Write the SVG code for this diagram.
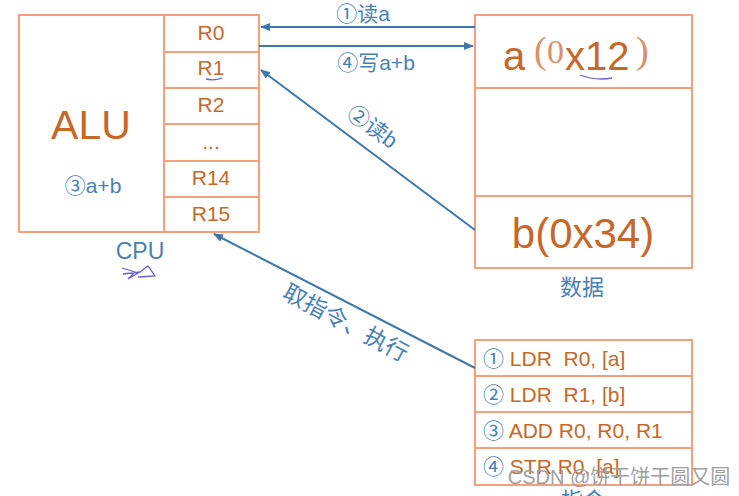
<svg xmlns="http://www.w3.org/2000/svg" width="739" height="496" viewBox="0 0 739 496">
<style>
.box{fill:none;stroke:#f4a07a;stroke-width:2}
.ot{font-family:"Liberation Sans","Noto Sans CJK SC",sans-serif;fill:#c5682a}
.bt{font-family:"Liberation Sans","Noto Sans CJK SC",sans-serif;fill:#4a7fb3}
.reg{font-size:21px;text-anchor:middle}
.ins{font-size:21px}
.conn{stroke:#3f77aa;stroke-width:2;fill:none}
.anno{stroke:#6a5ee0;stroke-width:1.3;fill:none}
.par{font-family:"Liberation Serif",serif;fill:#d9906a}
.wm{font-family:"Liberation Sans","Noto Sans CJK SC",sans-serif;fill:#a0a0a0}
</style>
<defs>
<marker id="ah" markerWidth="10" markerHeight="8" refX="9" refY="4" orient="auto" markerUnits="userSpaceOnUse">
<path d="M0,0 L10,4 L0,8 Z" fill="#3f77aa"/>
</marker>
</defs>
<rect width="739" height="496" fill="#ffffff"/>

<g id="cpu">
<rect class="box" x="19" y="15" width="240" height="217"/>
<line class="box" x1="164" y1="15" x2="164" y2="232"/>
<line class="box" x1="164" y1="52" x2="259" y2="52"/>
<line class="box" x1="164" y1="88" x2="259" y2="88"/>
<line class="box" x1="164" y1="124" x2="259" y2="124"/>
<line class="box" x1="164" y1="161" x2="259" y2="161"/>
<line class="box" x1="164" y1="197" x2="259" y2="197"/>
<text class="ot" x="91" y="139" font-size="41" text-anchor="middle">ALU</text>
<text class="bt" x="93" y="193" font-size="21" text-anchor="middle">③a+b</text>
<text class="ot reg" x="211" y="40">R0</text>
<text class="ot reg" x="211" y="75">R1</text>
<text class="ot reg" x="211" y="112">R2</text>
<text class="ot reg" x="211" y="149">...</text>
<text class="ot reg" x="211" y="185">R14</text>
<text class="ot reg" x="211" y="221">R15</text>
<path class="anno" d="M206,79 Q214,81 222,78"/>
<text class="bt" x="140" y="259" font-size="23" text-anchor="middle">CPU</text>
<path class="anno" d="M122,268 L135,272 L128,279 L140,272 L148,266 L155,276 L138,277 M123,274 L140,272"/>
</g>

<g id="data">
<rect class="box" x="475" y="15" width="217" height="253"/>
<line class="box" x1="475" y1="88" x2="692" y2="88"/>
<line class="box" x1="475" y1="196" x2="692" y2="196"/>
<text class="ot" x="503" y="70" font-size="40">a</text>
<text class="par" x="534" y="63" font-size="38">(</text>
<text class="par" x="547" y="63" font-size="34">0</text>
<text class="ot" x="565" y="70" font-size="40">x12</text>
<text class="par" x="636" y="63" font-size="38">)</text>
<path class="anno" d="M580,75 Q596,81 612,78"/>
<text class="ot" x="583" y="248" font-size="42" text-anchor="middle">b(0x34)</text>
<text class="bt" x="582" y="295" font-size="22" text-anchor="middle">数据</text>
</g>

<g id="instructions">
<rect class="box" x="475" y="340" width="217" height="145"/>
<line class="box" x1="475" y1="376" x2="692" y2="376"/>
<line class="box" x1="475" y1="412" x2="692" y2="412"/>
<line class="box" x1="475" y1="448" x2="692" y2="448"/>
<text class="ot ins" x="483" y="366" xml:space="preserve"><tspan class="bt">①</tspan> LDR  R0, [a]</text>
<text class="ot ins" x="483" y="402" xml:space="preserve"><tspan class="bt">②</tspan> LDR  R1, [b]</text>
<text class="ot ins" x="483" y="438" xml:space="preserve"><tspan class="bt">③</tspan> ADD R0, R0, R1</text>
<text class="ot ins" x="483" y="474" xml:space="preserve"><tspan class="bt">④</tspan> STR R0, [a]</text>
<text class="bt" x="583" y="508" font-size="22" text-anchor="middle">指令</text>
</g>

<g id="connectors">
<line class="conn" x1="475" y1="27" x2="261" y2="27" marker-end="url(#ah)"/>
<line class="conn" x1="259" y1="46" x2="473" y2="46" marker-end="url(#ah)"/>
<line class="conn" x1="475" y1="230" x2="261" y2="70" marker-end="url(#ah)"/>
<line class="conn" x1="475" y1="368" x2="214" y2="234" marker-end="url(#ah)"/>
<text class="bt" x="363" y="21" font-size="21" text-anchor="middle">①读a</text>
<text class="bt" x="376" y="70" font-size="21" text-anchor="middle">④写a+b</text>
<text class="bt" x="0" y="0" font-size="22" text-anchor="middle" transform="translate(368,133) rotate(36)">②读b</text>
<text class="bt" x="0" y="0" font-size="23" text-anchor="middle" transform="translate(342,330) rotate(28)">取指令、执行</text>
</g>

<text class="wm" x="619" y="484" font-size="20" text-anchor="middle">CSDN @饼干饼干圆又圆</text>
</svg>
